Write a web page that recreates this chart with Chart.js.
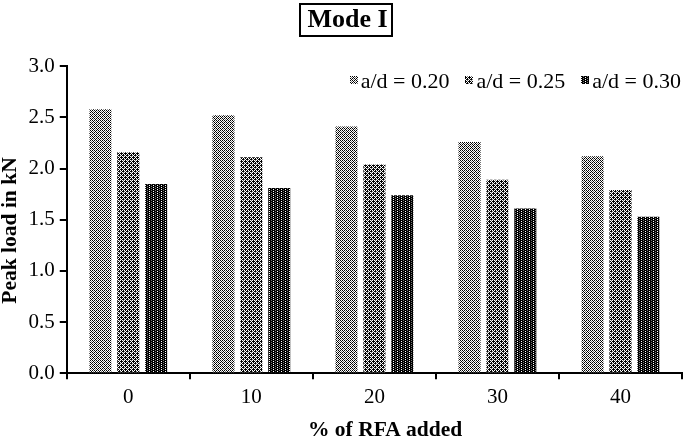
<!DOCTYPE html>
<html>
<head>
<meta charset="utf-8">
<script src="https://cdn.jsdelivr.net/npm/chart.js@4/dist/chart.umd.min.js"></script>
<style>
html,body{margin:0;padding:0;background:#fff;}
#wrap{width:685px;height:438px;}
</style>
</head>
<body>
<div id="wrap"><canvas id="c" width="685" height="438"></canvas></div>
<script>
const categories = ['0', '10', '20', '30', '40'];
const seriesNames = ['a/d = 0.20', 'a/d = 0.25', 'a/d = 0.30'];
const ad020 = [2.58, 2.52, 2.41, 2.26, 2.12];
const ad025 = [2.16, 2.11, 2.04, 1.89, 1.79];
const ad030 = [1.85, 1.81, 1.74, 1.61, 1.53];
const yTicks = [0, 0.5, 1.0, 1.5, 2.0, 2.5, 3.0];

const ctx0 = document.getElementById('c').getContext('2d');
function makePattern(size, cells) {
  const cv = document.createElement('canvas');
  cv.width = size; cv.height = size;
  const g = cv.getContext('2d');
  g.fillStyle = '#fff'; g.fillRect(0, 0, size, size);
  for (const [x, y, col] of cells) { g.fillStyle = col; g.fillRect(x, y, 1, 1); }
  return ctx0.createPattern(cv, 'repeat');
}
const K = '#000', G = '#777';
// fine checkerboard (grey)
const pat1 = makePattern(4, [[0,0,K],[2,0,K],[1,1,K],[3,1,G],[0,2,K],[2,2,K],[1,3,G],[3,3,K]]);
// dark plus signs
const pat2 = makePattern(4, [[1,0,K],[0,1,K],[1,1,K],[2,1,K],[1,2,K],[3,2,K],[2,3,K],[3,3,K],[0,3,G],[3,0,G]]);
// dark columns with white dots
const pat3 = makePattern(4, [
  [0,0,K],[0,1,K],[0,2,K],[0,3,K],
  [1,0,K],[1,2,K],
  [2,0,K],[2,1,K],[2,2,K],[2,3,K],
  [3,0,G],[3,1,K],[3,2,G],[3,3,K]
]);
const patterns = [pat1, pat2, pat3];

const serif = "'Liberation Serif', 'Times New Roman', serif";

const decor = {
  id: 'decor',
  afterDraw(chart) {
    const ctx = chart.ctx;
    ctx.save();
    // box around title
    ctx.font = "bold 26px " + serif;
    const w = ctx.measureText('Mode I').width;
    const cx = 346.5;
    ctx.strokeStyle = '#000';
    ctx.lineWidth = 2;
    ctx.strokeRect(Math.round(cx - w / 2 - 6), 4, Math.round(w + 12), 32);
    // legend inside chart area, top-right
    ctx.font = "22px " + serif;
    ctx.textBaseline = 'alphabetic';
    const items = chart.data.datasets.map((d, i) => ({ text: d.label, fill: patterns[i], w: ctx.measureText(d.label).width }));
    const sw = 8, gapSw = 3, gapItem = 16;
    let x = chart.chartArea.right - 1;
    const baseY = 88;
    for (let i = items.length - 1; i >= 0; i--) {
      const it = items[i];
      x -= it.w;
      ctx.fillStyle = '#000';
      ctx.fillText(it.text, x, baseY);
      x -= gapSw + sw;
      ctx.fillStyle = it.fill;
      ctx.fillRect(Math.round(x), 76, sw, sw);
      x -= gapItem;
    }
    ctx.restore();
  }
};

new Chart(document.getElementById('c'), {
  type: 'bar',
  data: {
    labels: categories,
    datasets: [
      { label: seriesNames[0], data: ad020, backgroundColor: pat1 },
      { label: seriesNames[1], data: ad025, backgroundColor: pat2 },
      { label: seriesNames[2], data: ad030, backgroundColor: pat3 }
    ]
  },
  plugins: [decor],
  options: {
    responsive: false,
    animation: false,
    devicePixelRatio: 1,
    layout: { padding: { left: 0, right: 3, top: 0, bottom: -3 } },
    datasets: { bar: { categoryPercentage: 0.68, barPercentage: 0.79 } },
    plugins: {
      title: {
        display: true,
        text: '  Mode I',
        color: '#000',
        font: { family: serif, size: 26, weight: 'bold', lineHeight: 1.2 },
        padding: { top: 5, bottom: 30 }
      },
      legend: { display: false },
      tooltip: { enabled: false }
    },
    scales: {
      x: {
        grid: { display: true, drawOnChartArea: false, color: '#000', tickLength: 6, offset: true, lineWidth: 2 },
        border: { display: true, color: '#000', width: 2 },
        ticks: { color: '#000', font: { family: serif, size: 21, lineHeight: 1.2 }, padding: 6 },
        title: { display: true, text: '    % of RFA added', color: '#000', font: { family: serif, size: 21.5, weight: 'bold', lineHeight: 1.0 }, padding: { top: 3, bottom: 0 } }
      },
      y: {
        min: 0, max: 3,
        afterBuildTicks(scale) { scale.ticks = yTicks.map(v => ({ value: v })); },
        grid: { display: true, drawOnChartArea: false, color: '#000', tickLength: 7, lineWidth: 2 },
        border: { display: true, color: '#000', width: 2 },
        ticks: { color: '#000', font: { family: serif, size: 21 }, padding: 5, callback: v => Number(v).toFixed(1) },
        title: { display: true, text: 'Peak load in kN    ', color: '#000', font: { family: serif, size: 21.5, weight: 'bold', lineHeight: 1.0 }, padding: { top: 0, bottom: 2 } }
      }
    }
  }
});
</script>
</body>
</html>
